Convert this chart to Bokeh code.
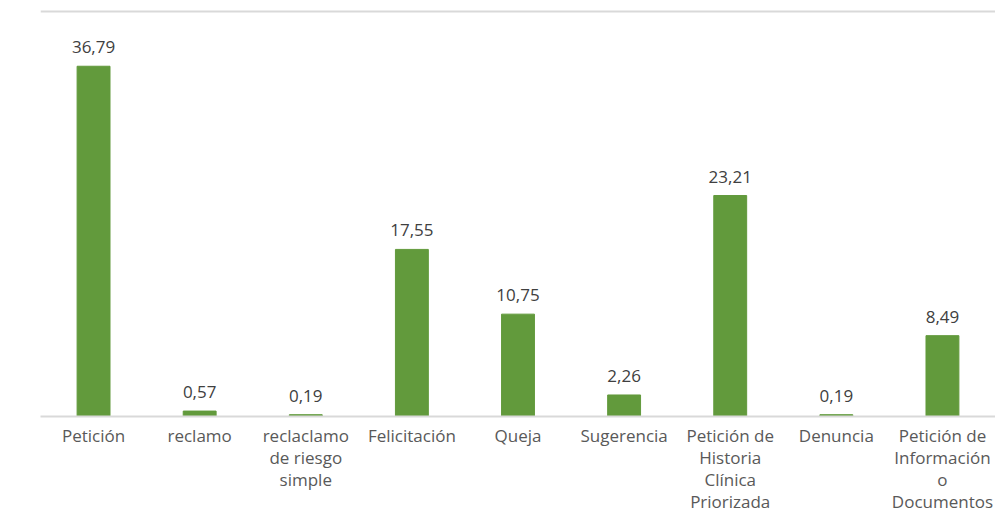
from bokeh.plotting import figure
from bokeh.models import ColumnDataSource, LabelSet, Range1d, Span, FactorRange
from bokeh.core.properties import value
from bokeh.embed import file_html
from bokeh.resources import INLINE

categories = [
    "Petición",
    "reclamo",
    "reclaclamo\nde riesgo\nsimple",
    "Felicitación",
    "Queja",
    "Sugerencia",
    "Petición de\nHistoria\nClínica\nPriorizada",
    "Denuncia",
    "Petición de\nInformación\no\nDocumentos",
]
values = [36.79, 0.57, 0.19, 17.55, 10.75, 2.26, 23.21, 0.19, 8.49]
value_labels = [f"{v:.2f}".replace(".", ",") for v in values]

source = ColumnDataSource(dict(cat=categories, val=values, lab=value_labels))

FONT = "Open Sans"

p = figure(
    x_range=FactorRange(*categories, range_padding=0),
    y_range=Range1d(0, 42.75),
    width=995, height=516,
    output_backend="svg", toolbar_location=None,
    min_border_left=40, min_border_right=0, min_border_top=9, min_border_bottom=99,
)
p.outline_line_color = None
p.xgrid.visible = False
p.ygrid.visible = False
p.yaxis.visible = False

p.vbar(x="cat", top="val", width=0.31, source=source,
       fill_color="#629A3C", line_color="#629A3C")

labels = LabelSet(x="cat", y="val", text="lab", source=source,
                  text_align="center", text_baseline="bottom", y_offset=13,
                  text_font=value(FONT), text_font_size="17px", text_color="#404040")
p.add_layout(labels)

p.add_layout(Span(location=42.54, dimension="width", line_color="#D9D9D9", line_width=2))

ax = p.xaxis[0]
ax.axis_line_color = "#D9D9D9"
ax.axis_line_width = 2
ax.major_tick_line_color = None
ax.minor_tick_line_color = None
ax.major_label_text_font = FONT
ax.major_label_text_font_size = "17px"
ax.major_label_text_color = "#595959"
ax.major_label_standoff = 1
ax.major_label_text_line_height = 0.97

open("out.html", "w").write(file_html(p, INLINE))
